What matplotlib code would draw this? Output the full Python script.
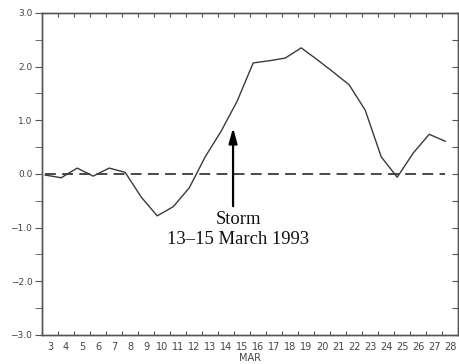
import numpy as np
import matplotlib.pyplot as plt
from matplotlib.ticker import MultipleLocator, FixedLocator, NullFormatter

# daily values, 3-28 March 1993
days = list(range(3, 29))
values = [-0.02, -0.07, 0.11, -0.04, 0.11, 0.03, -0.43, -0.78, -0.61, -0.26,
          0.32, 0.80, 1.36, 2.07, 2.11, 2.16, 2.35, 2.13, 1.90, 1.66,
          1.19, 0.32, -0.06, 0.39, 0.74, 0.61]
ytick_vals = [-3, -2, -1, 0, 1, 2, 3]
storm_text = "Storm\n13\u201315 March 1993"

fig = plt.figure(figsize=(4.6, 3.64), dpi=100)
ax = fig.add_axes([0.0913, 0.0797, 0.9044, 0.8846])

x = np.array(days) - 0.3
ax.plot(x, values, color='#3a3a3a', lw=1.0)
ax.plot(x, np.zeros(len(x)), color='#3a3a3a', lw=1.3, dashes=(6, 3.5))

ax.annotate('', xy=(14.44, 0.86), xytext=(14.44, -0.6),
            arrowprops=dict(arrowstyle='-|>,head_length=0.9,head_width=0.25',
                            color='black', lw=1.6, shrinkA=0, shrinkB=0))
ax.text(14.75, -1.03, storm_text, ha='center', va='center',
        fontfamily='Liberation Serif', fontsize=13.4, linespacing=1.22,
        color='#111111')

ax.set_xlim(2.5, 28.5)
ax.set_ylim(-3, 3)

# ticks at day boundaries, labels at day centres
ax.xaxis.set_major_locator(FixedLocator(np.arange(3.5, 28.5, 1.0)))
ax.xaxis.set_major_formatter(NullFormatter())
ax.xaxis.set_minor_locator(FixedLocator(days))
ax.set_xticklabels([str(d) for d in days], minor=True)
ax.tick_params(axis='x', which='minor', length=0, pad=5, labelsize=7,
               labelcolor='#444444')
ax.tick_params(axis='x', which='major', direction='in', length=3,
               top=True, bottom=True, color='#555555')

ax.set_yticks(ytick_vals)
ax.set_yticklabels(['%.1f' % v if v >= 0 else '\u2212%.1f' % -v for v in ytick_vals])
ax.yaxis.set_minor_locator(MultipleLocator(0.5))
ax.tick_params(axis='y', which='both', direction='out', length=5,
               labelsize=6.5, labelcolor='#444444', color='#555555', pad=2)
# inward ticks on the right side
for t in ax.yaxis.get_major_ticks() + ax.yaxis.get_minor_ticks():
    t.tick2line.set_visible(False)
ax2 = ax.twinx()
ax2.set_ylim(-3, 3)
ax2.yaxis.set_major_locator(MultipleLocator(0.5))
ax2.tick_params(axis='y', direction='in', length=4, labelright=False,
                color='#555555')

for a in (ax, ax2):
    for s in a.spines.values():
        s.set_color('#555555')
        s.set_linewidth(1.0)

ax.set_xlabel('MAR', fontsize=7, color='#444444', labelpad=1)

fig.savefig('out.png', dpi=100, facecolor='white')
